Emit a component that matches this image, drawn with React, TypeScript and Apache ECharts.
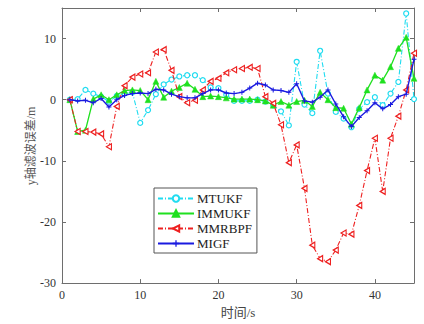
import React, { useEffect, useRef } from "react";
import * as echarts from "echarts";

const times = [1,2,3,4,5,6,7,8,9,10,11,12,13,14,15,16,17,18,19,20,21,22,23,24,25,26,27,28,29,30,31,32,33,34,35,36,37,38,39,40,41,42,43,44,45];

const mtukf = [0,0.1,1.6,1.0,0.5,-0.3,0.6,1.0,1.2,-3.8,-1.7,0.9,2.5,3.3,3.8,4.0,4.0,3.2,2.0,1.9,0.8,-0.2,-0.2,-0.2,0,-0.3,-0.9,-1.9,-4.2,6.2,-0.8,-2.2,8.0,1.0,-2.0,-3.1,-4.5,-1.5,-0.4,0.4,-0.9,1.0,2.9,14.1,0.1];
const immukf = [0,-5.2,-5.0,0.1,0.8,0,0.8,1.5,1.6,1.5,0,3.0,0.4,1.4,2.0,2.7,1.7,0.5,0.6,0.5,0.3,0.1,0.1,0.1,0,-0.2,-0.9,-0.3,-0.9,-0.3,-0.1,-1.1,1.2,0,-1.3,-1.4,-4.0,-1.3,1.6,4.0,3.2,5.4,8.4,10.2,3.5];
const mmrbpf = [0,-5.2,-5.2,-5.3,-5.6,-7.7,-1.1,2.3,3.7,4.2,4.4,7.8,8.2,4.8,0.5,-0.5,-0.1,1.6,3.0,3.5,4.4,4.9,5.1,5.3,5.1,0.5,-0.6,-4.1,-10.3,-7.4,-14.5,-23.8,-26.0,-26.5,-24.6,-21.8,-22.0,-17.3,-11.6,-6.3,-15.0,-6.3,-2.7,1.6,7.6];
const migf = [0,-0.2,-0.1,-0.5,0.2,-1.2,0,0.7,1.0,1.1,1.0,1.7,1.6,0.9,0.5,0.3,0.3,1.0,1.6,1.6,1.1,1.0,1.2,1.9,2.7,2.4,1.6,1.5,1.2,2.6,-0.2,-0.4,0.4,1.6,-0.7,-2.8,-4.4,-2.9,-1.8,-0.5,-1.5,-0.8,0.5,0.9,6.6];

const seriesNames = ["MTUKF", "IMMUKF", "MMRBPF", "MIGF"];
const xTickLabels = ["0", "10", "20", "30", "40"];
const yTickLabels = ["-30", "-20", "-10", "0", "10"];
const xAxisTitle = "时间/s";
const yAxisTitle = "y轴滤波误差/m";

const FONT = "'Liberation Serif', 'Noto Sans CJK SC', serif";
const AXIS_COLOR = "#6e6e6e";

export default function App() {
  const ref = useRef<HTMLDivElement>(null);
  useEffect(() => {
    if (!ref.current) return;
    const chart = echarts.init(ref.current, null, { renderer: "svg" });
    const pair = (arr: number[]) => times.map((t, i) => [t, arr[i]]);
    const baseAxis = {
      axisLine: { show: true, onZero: false, lineStyle: { color: AXIS_COLOR, width: 1 } },
      axisTick: { show: true, inside: true, length: 4, lineStyle: { color: AXIS_COLOR } },
      splitLine: { show: false },
    };
    const option: any = {
      animation: false,
      backgroundColor: "#ffffff",
      grid: { left: 62, right: 10, top: 8, bottom: 39, containLabel: false },
      graphic: [
        {
          type: "text",
          x: 31,
          y: 146,
          rotation: Math.PI / 2,
          style: {
            text: yAxisTitle,
            fontFamily: FONT,
            fontSize: 12,
            fill: "#555",
            textAlign: "center",
            textVerticalAlign: "middle",
          },
        },
      ],
      xAxis: [
        {
          ...baseAxis,
          type: "value",
          min: 0,
          max: 45,
          interval: 10,
          name: xAxisTitle,
          nameLocation: "middle",
          nameGap: 20,
          nameTextStyle: { fontFamily: FONT, fontSize: 13, color: "#444" },
          axisLabel: {
            fontFamily: FONT,
            fontSize: 12,
            color: "#333",
            margin: 6,
            formatter: (v: number) => (xTickLabels.includes(String(v)) ? String(v) : ""),
          },
        },
        {
          ...baseAxis,
          type: "value",
          position: "top",
          min: 0,
          max: 45,
          interval: 10,
          axisLabel: { show: false },
        },
      ],
      yAxis: [
        {
          ...baseAxis,
          type: "value",
          min: -30,
          max: 15,
          interval: 10,
          axisLabel: {
            fontFamily: FONT,
            fontSize: 12,
            color: "#333",
            margin: 6,
            formatter: (v: number) => (yTickLabels.includes(String(v)) ? String(v) : ""),
          },
        },
        {
          ...baseAxis,
          type: "value",
          position: "right",
          min: -30,
          max: 15,
          interval: 10,
          axisLabel: { show: false },
        },
      ],
      legend: {
        orient: "vertical",
        left: 154,
        top: 188,
        padding: [4, 5, 3, 3],
        itemGap: 2,
        itemWidth: 36,
        itemHeight: 8,
        backgroundColor: "#ffffff",
        borderColor: "#555",
        borderWidth: 1,
        borderRadius: 0,
        textStyle: { fontFamily: FONT, fontSize: 13, color: "#222", lineHeight: 13, padding: [0, 0, 0, -2] },
        data: seriesNames,
      },
      series: [
        {
          name: seriesNames[0],
          type: "line",
          data: pair(mtukf),
          symbol: "circle",
          symbolSize: 5,
          lineStyle: { color: "#20dcf0", width: 1.1, type: [5, 2, 1, 2] },
          itemStyle: { color: "#ffffff", borderColor: "#20dcf0", borderWidth: 1.2 },
          z: 2,
        },
        {
          name: seriesNames[1],
          type: "line",
          data: pair(immukf),
          symbol: "triangle",
          symbolSize: 6,
          lineStyle: { color: "#1fe01f", width: 1.3, type: "solid" },
          itemStyle: { color: "#1fe01f", borderColor: "#1fe01f", borderWidth: 0.5 },
          z: 3,
        },
        {
          name: seriesNames[2],
          type: "line",
          data: pair(mmrbpf),
          symbol: "path://M10,0 L0,5 L10,10 Z",
          symbolSize: [5, 6],
          lineStyle: { color: "#ee2020", width: 1.1, type: [5, 2, 1, 2] },
          itemStyle: { color: "#ffffff", borderColor: "#ee2020", borderWidth: 1.2 },
          z: 4,
        },
        {
          name: seriesNames[3],
          type: "line",
          data: pair(migf),
          symbol: "path://M4,0 H6 V4 H10 V6 H6 V10 H4 V6 H0 V4 H4 Z",
          symbolSize: 5,
          lineStyle: { color: "#1a1ae0", width: 1.4, type: "solid" },
          itemStyle: { color: "#1a1ae0", borderColor: "#1a1ae0", borderWidth: 0 },
          z: 5,
        },
      ],
    };
    chart.setOption(option);
    return () => chart.dispose();
  }, []);
  return (
    <div
      ref={ref}
      style={{ position: "absolute", left: 0, top: 0, width: 424, height: 324 }}
    />
  );
}
